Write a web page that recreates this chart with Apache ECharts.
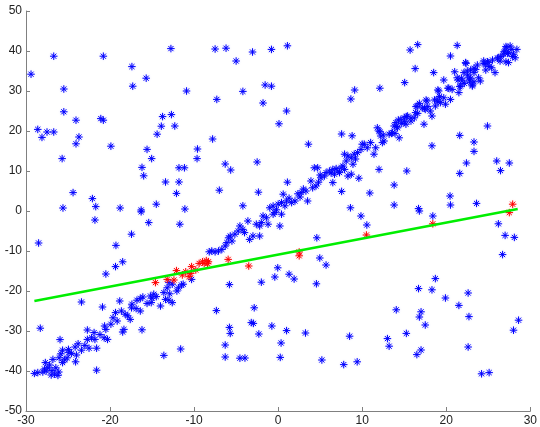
<!DOCTYPE html>
<html>
<head>
<meta charset="utf-8">
<script src="https://cdn.jsdelivr.net/npm/echarts@6/dist/echarts.min.js"></script>
<style>
html, body { margin: 0; padding: 0; background: #ffffff; }
#chart { width: 540px; height: 427px; }
</style>
</head>
<body>
<div id="chart"></div>
<script>
// Axis ranges and tick step
const xRange = [-30, 30];
const yRange = [-50, 50];
const tickStep = 10;

// Points scattered across the plane (not on the dominant trend)
const scatterPoints = [
  [-12.76,40.6],[-26.7,38.7],[-20.8,38.7],[-29.4,34.2],[-17.4,36.1],[-15.7,33.2],[-17.3,31.2],[-25.5,30.5],
  [-10.9,30],[-25.5,24.8],[-24.05,22.7],[-21.1,23.1],[-20.8,22.7],[-13.75,23.6],[-12.7,24.1],[-13.9,21.2],
  [-12.3,21.25],[-28.6,20.4],[-28.1,18.4],[-27.5,19.75],[-26.7,19.75],[-23.7,18.5],[-24.05,16.8],[-14.4,19.2],
  [-19.9,16.2],[-15.6,15.4],[-15.05,13.1],[-25.7,13.1],[-16.2,10.9],[-16.0,8.8],[-11.8,10.8],[-11.15,10.8],
  [-9.65,13.1],[-9.6,15.5],[-13.4,7.25],[-11.8,7.25],[-12.1,4.4],[-24.4,4.6],[-22.1,3.1],[-21.7,1.1],
  [-25.6,0.75],[-18.8,0.75],[-16.3,0.25],[-14.5,1.7],[-11.1,0.5],
  [-7.5,40.5],[-6.2,40.7],[-3.05,39.75],[-0.8,40.4],[1.1,41.3],[-5.0,37.5],[-1.55,31.5],[-0.8,31.2],
  [-4.2,29.9],[-7.3,27.9],[-1.8,27],[1.0,25],[0.1,21.8],[-7.8,18],[9.1,30.25],[8.65,28],[7.55,19.25],
  [8.8,18.8],[3.6,16.7],[-6.3,11.75],[-5.65,10.25],[-2.5,12.25],[-7.0,5.2],[-2.35,4.7],[-4.2,1.3],
  [1.1,7.2],[7.55,4.9],[8.6,0.8],[9.6,8.2],[6.5,7.1],
  [16.6,41.6],[15.7,40.25],[21.3,41.4],[20.5,38.75],[16.3,35.6],[18.5,34.6],[15.05,32.1],[12.1,30.7],
  [24.9,21.25],[21.6,18.9],[18.3,16.3],[23.3,17.25],[23.3,14.9],[26.0,12.5],[27.5,12],[26.45,10.1],
  [22.4,12],[21.6,9.4],[15.3,10],[12.0,10.4],[13.8,6.5],[10.9,4.5],[20.45,3.75],[20.5,1.5],[23.6,1.9],
  [13.8,1.5],[16.7,0.6],
  [-21.8,-2.25],[-16.3,-0.2],[-15.4,-2.9],[-11.7,-3.3],[-17.45,-5.8],[-28.5,-8],[-19.3,-8.6],[-18.5,-12.7],
  [-19.35,-13.9],[-20.5,-15.75],[-23.4,-22.75],[-20.9,-24],[-18.85,-22.5],[-28.3,-29.3],[-16.2,-29.7],
  [-13.6,-36.1],[-11.6,-34.5],[-21.6,-39.8],
  [4.6,-6.7],[4.95,-11.75],[5.7,-13.5],[-0.05,-14.2],[-0.4,-16.5],[1.3,-15.8],[1.9,-17],[-2.0,-17.8],
  [-5.8,-18.4],[4.55,-18.2],[-7.35,-24.9],[-2.85,-24.2],[-5.8,-29.1],[-5.7,-30.6],[-3.2,-27.9],[-2.95,-28.1],
  [-0.75,-28.75],[1.0,-29.9],[-2.3,-30.75],[3.25,-30.5],[8.5,-31.3],[-6.3,-33.5],[0.35,-33],[-6.3,-36.5],
  [-4.55,-36.8],[-3.95,-36.75],[0.25,-36.6],[5.2,-37.25],[7.8,-38.4],[9.4,-37.7],[9.85,-1.25],
  [18.4,-1.25],[16.8,0],[10.55,-3.5],[26.2,-3.2],[27.0,-6.1],[28.1,-6.6],[26.7,-10.9],[18.7,-16.9],
  [16.7,-19.4],[18.3,-19.7],[19.9,-21.75],[22.6,-20.5],[21.5,-23.6],[14.05,-24.7],[17.0,-25.2],[16.8,-26.5],
  [17.5,-28.5],[22.7,-26.4],[28.6,-27.3],[28.0,-29.8],[15.25,-30.6],[13.0,-31.9],[13.2,-33.8],[17.0,-34.75],
  [16.5,-35.9],[22.6,-34],[24.2,-40.7],[25.1,-40.4]
];

// Points along the dominant diagonal trend
const trendPoints = [
  [-29.0,-40.6],[-28.6,-40.4],[-28.0,-40.25],[-27.6,-40],[-27.0,-41],[-26.6,-40.8],[-26.2,-41.1],[-26.1,-40.25],
  [-26.45,-39.2],[-27.2,-38.5],[-27.7,-37.9],[-26.8,-37.1],[-26.05,-36.7],[-25.85,-35.7],[-25.65,-34.8],
  [-25.1,-36.7],[-24.9,-35.4],[-24.95,-34.6],[-24.15,-34],[-24.0,-36],[-24.1,-37.7],[-23.4,-34.8],[-22.5,-34.3],
  [-21.6,-34.3],[-22.7,-32.1],[-22.2,-31.7],[-21.9,-30.4],[-22.7,-29.75],[-21.8,-32.1],[-20.65,-28.75],
  [-20.5,-29.6],[-20.7,-31.7],[-20.3,-32.1],[-19.65,-26.7],[-19.35,-25.4],[-19.15,-27.5],[-18.65,-25],
  [-18.35,-29.6],[-18.5,-30.25],[-18.2,-25.8],[-17.6,-27.1],[-17.45,-24.2],[-17.4,-23.3],[-16.4,-25],
  [-16.8,-22.3],[-16.4,-21.9],[-16.1,-21.5],[-15.2,-21.25],[-14.8,-20.8],[-15.0,-21.8],[-15.1,-22.9],
  [-14.0,-23.75],[-13.4,-22.1],[-13.0,-22.3],[-12.6,-22.9],[-13.6,-20.4],[-13.2,-19.2],[-13.0,-17.9],
  [-12.6,-18.3],[-11.85,-19.2],[-11.5,-18.5],[-12.05,-20],[-11.3,-18.3],[-10.3,-17.1],[-27.4,-39.2],
  [-25.65,-37.9],[-25.95,-32.15],
  [-27.8,-39.5],[-26.9,-39.9],[-25.4,-37.2],[-24.6,-35.6],[-23.8,-33.2],[-23.0,-33.6],[-21.2,-30.9],
  [-19.9,-28.3],[-17.9,-26.2],[-16.9,-24.4],[-15.6,-23.1],[-14.5,-21.4],[-12.9,-20.7],
  [-8.2,-10.2],[-7.9,-10],[-7.5,-10.2],[-7.1,-10],[-6.7,-9.6],[-6.3,-8.75],[-6.1,-7.9],[-5.9,-6.7],
  [-5.7,-6.25],[-5.5,-7.5],[-5.15,-5.8],[-4.75,-5],[-4.55,-3.75],[-4.2,-4.6],[-4.0,-5.4],[-3.6,-2.5],
  [-3.4,-7.1],[-3.0,-6.25],[-2.6,-3.3],[-2.2,-3.75],[-2.2,-6.25],[-2.0,-2.9],[-1.8,-1.25],[-1.4,-1.7],
  [-1.2,-3.3],[-0.6,-0.8],[-0.4,-0.4],[0.2,-3.75],[0.4,-0.8],
  [-1.0,0.8],[-0.6,1.25],[0.0,1.7],[0.4,2.1],[0.6,4.2],[1.0,2.5],[1.6,2.1],[2.0,2.5],[2.35,4.3],[2.75,4.6],
  [3.3,5],[3.5,2.5],[3.9,7.5],[4.1,5.8],[4.5,6.25],[4.3,10.8],[4.7,10.8],[5.1,8.3],[5.5,8.75],[5.7,9.6],
  [6.1,10],[6.5,10.4],[6.7,9.2],[7.1,10],[7.5,10.8],[7.7,11.25],[7.9,10.4],[8.3,8.75],[8.7,9.2],[7.9,14.2],
  [8.3,13.75],[8.7,13.3],[9.05,14.2],[9.45,14.6],[9.85,15.4],[10.0,16.7],[8.9,11.7],
  [5.0,9.0],[6.3,9.5],[3.0,5.5],[2.6,3.5],[1.3,3.2],[4.8,7.2],[6.9,10.6],[7.3,9.6],[8.1,12.5],[9.2,13.0],
  [-0.2,0.3],[0.8,1.3],
  [10.24,16.7],[10.6,15.8],[11.0,17.1],[11.4,14.2],[11.6,15.8],[11.8,20.8],[12.0,20],[12.2,18.75],
  [12.4,17.1],[12.6,17.5],[13.2,19.2],[13.6,19.6],[13.8,21.25],[14.0,22.1],[14.2,20.8],[14.4,18.3],
  [14.6,22.9],[15.0,23.3],[15.4,23.75],[15.2,21.7],[15.8,22.5],[16.2,23.3],[16.35,24.6],[16.55,26.25],
  [17.15,25.8],[17.35,21.7],[17.5,25.4],[17.7,27.5],[18.1,25],[18.3,23.75],[18.7,26.25],[18.9,27.9],
  [19.1,30],[19.3,27.1],[19.7,28.3],[19.9,26.7],[20.5,27.9],[20.7,30.4],[21.3,33.3],[21.5,29.6],
  [21.7,31.25],[21.9,32.5],[22.1,34.6],[22.3,37.1],[22.5,35],[22.7,33.3],[22.9,32.1],[23.1,31.25],
  [23.3,34.6],[23.5,35.4],[23.85,33.3],[24.05,32.5],[24.45,37.5],[24.65,36.7],[25.0,37.1],[25.4,35.8],
  [25.8,34.6],[26.2,38.3],[26.4,37.5],[26.8,39.2],[27.0,40],[27.2,40.8],[27.4,39.6],[27.6,41.25],
  [27.8,40.4],[28.0,39.2],[28.2,38.3],[28.4,40.4],[27.4,37.1],[19.7,32.75],[20.3,30.7],
  [27.1,41.1],[26.9,39.8],[27.3,39.4],[27.9,38.6],[26.5,38.6],[27.1,37.3],[26.1,38.2],[25.5,37.75],
  [24.9,37.3],[24.5,36.9],[25.1,36.1],[24.7,35.25],[23.7,36.5],[23.3,35.7],[22.9,35.25],[22.35,36.9],
  [22.55,34.0],[22.9,33.2],[23.3,32.3],[23.1,31.5],[22.75,32.75],[22.15,31.9],[21.8,33.2],[21.4,32.75],
  [21.6,31.1],[21.0,34.8],[20.2,30.7],[19.0,30.25],[19.2,28.6],[18.6,27.75],[19.0,27.3],[17.8,26.1],
  [17.6,27.75],[17.4,25.7],[16.8,26.9],[16.4,26.1],[16.6,24.4],[15.8,23.2],[15.25,23.6],[15.05,22.3],
  [14.7,21.9],[14.3,22.75],[14.1,21.1],[13.9,19.4],[13.5,19.4],[12.5,19.0],[12.1,19.8]
];

// Points lying close to the fitted line
const nearLinePoints = [
  [-14.6,-17.9],[-13.2,-17.1],[-12.1,-14.9],[-12.4,-17.25],[-11.4,-16],[-11.0,-15.2],[-10.6,-16.4],
  [-10.4,-15.6],[-9.4,-13.1],[-9.0,-12.7],[-8.8,-13.1],[-8.55,-12.4],[-8.4,-13.1],[-8.3,-12.7],
  [-9.8,-14.75],[-10.3,-13.9],[-5.95,-12.1],[-3.5,-13.75],[2.5,-10.25],[2.5,-11.2],[10.5,-6.0],
  [18.4,-3.2],[27.5,-0.4],[27.9,1.7]
];

// End points of the fitted line
const fitLine = [[-29, -22.5], [28.5, 0.5]];

// MATLAB-style asterisk marker: plus and cross strokes
const asterisk = 'path://M5,0L5,10M0,5L10,5M1.6,1.6L8.4,8.4M1.6,8.4L8.4,1.6';

const axisGray = '#808080';
const labelStyle = { color: '#222222', fontSize: 12, fontFamily: 'Liberation Sans, Arial, sans-serif' };

function markerStyle(color, glow) {
  return {
    color: 'rgba(0,0,0,0)', borderColor: color, borderWidth: 1, opacity: 1,
    shadowColor: glow, shadowBlur: 2
  };
}

const chart = echarts.init(document.getElementById('chart'), null, { renderer: 'canvas' });
chart.setOption({
  animation: false,
  backgroundColor: '#ffffff',
  grid: { left: 26, right: 7, top: 11, bottom: 16, containLabel: false },
  xAxis: {
    type: 'value', min: xRange[0], max: xRange[1], interval: tickStep,
    axisLine: { show: true, onZero: false, lineStyle: { color: axisGray, width: 1 } },
    axisTick: { show: true, inside: true, length: 4, lineStyle: { color: axisGray } },
    axisLabel: Object.assign({ margin: 4, showMinLabel: true, showMaxLabel: true }, labelStyle),
    splitLine: { show: false }
  },
  yAxis: {
    type: 'value', min: yRange[0], max: yRange[1], interval: tickStep,
    axisLine: { show: true, onZero: false, lineStyle: { color: axisGray, width: 1 } },
    axisTick: { show: true, inside: true, length: 4, lineStyle: { color: axisGray } },
    axisLabel: Object.assign({ margin: 4, showMinLabel: true, showMaxLabel: true }, labelStyle),
    splitLine: { show: false }
  },
  series: [
    {
      type: 'scatter', data: scatterPoints.concat(trendPoints),
      symbol: asterisk, symbolSize: 7.5,
      itemStyle: markerStyle('#0000ff', 'rgba(110,110,255,0.35)'),
      emphasis: { disabled: true }
    },
    {
      type: 'scatter', data: nearLinePoints,
      symbol: asterisk, symbolSize: 7.5,
      itemStyle: markerStyle('#ff0000', 'rgba(255,110,110,0.35)'),
      emphasis: { disabled: true }
    },
    {
      type: 'line', data: fitLine, symbol: 'none',
      lineStyle: { color: '#00ee00', width: 2.5 },
      emphasis: { disabled: true }
    }
  ]
});
</script>
</body>
</html>
